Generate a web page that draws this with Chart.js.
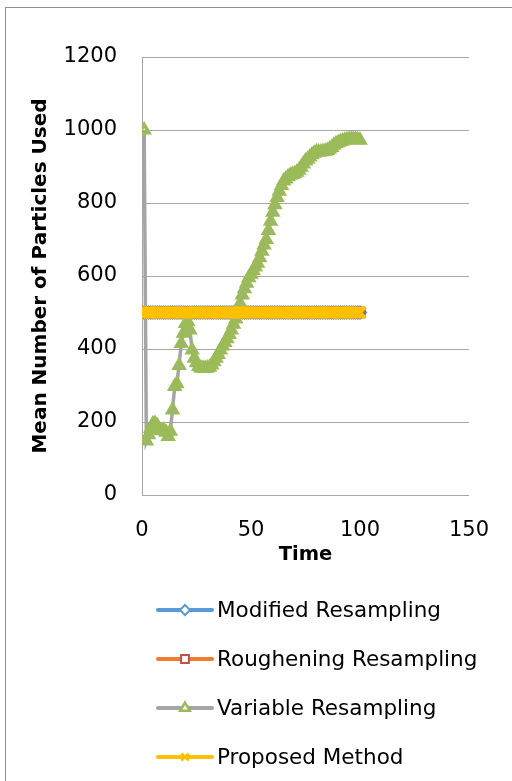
<!DOCTYPE html>
<html>
<head>
<meta charset="utf-8">
<script src="https://cdn.jsdelivr.net/npm/chart.js@4.4.1/dist/chart.umd.min.js"></script>
<style>
  html, body { margin: 0; padding: 0; background: #fff; overflow: hidden; }
  #wrap { position: relative; width: 512px; height: 781px; overflow: hidden; }
  #frame { position: absolute; left: 5px; top: 7px; width: 600px; height: 900px;
           border: 1px solid #8f8f8f; box-sizing: border-box; }
  #c { position: absolute; left: 0; top: 0; }
</style>
</head>
<body>
<div id="wrap">
  <div id="frame"></div>
  <canvas id="c" width="512" height="781"></canvas>
</div>
<script>
// Time steps of the simulation
const timeSteps = [
  1, 2, 3, 4, 5, 6, 7, 8, 9, 10, 11, 12, 13, 14, 15, 16, 17, 18, 19, 20,
  21, 22, 23, 24, 25, 26, 27, 28, 29, 30, 31, 32, 33, 34, 35, 36, 37, 38, 39, 40,
  41, 42, 43, 44, 45, 46, 47, 48, 49, 50, 51, 52, 53, 54, 55, 56, 57, 58, 59, 60,
  61, 62, 63, 64, 65, 66, 67, 68, 69, 70, 71, 72, 73, 74, 75, 76, 77, 78, 79, 80,
  81, 82, 83, 84, 85, 86, 87, 88, 89, 90, 91, 92, 93, 94, 95, 96, 97, 98, 99, 100
];

// Mean number of particles used by each method
const modifiedResampling = [
  500, 500, 500, 500, 500, 500, 500, 500, 500, 500, 500, 500, 500, 500, 500, 500, 500, 500, 500, 500,
  500, 500, 500, 500, 500, 500, 500, 500, 500, 500, 500, 500, 500, 500, 500, 500, 500, 500, 500, 500,
  500, 500, 500, 500, 500, 500, 500, 500, 500, 500, 500, 500, 500, 500, 500, 500, 500, 500, 500, 500,
  500, 500, 500, 500, 500, 500, 500, 500, 500, 500, 500, 500, 500, 500, 500, 500, 500, 500, 500, 500,
  500, 500, 500, 500, 500, 500, 500, 500, 500, 500, 500, 500, 500, 500, 500, 500, 500, 500, 500, 500
];
const roughResampling = [
  500, 500, 500, 500, 500, 500, 500, 500, 500, 500, 500, 500, 500, 500, 500, 500, 500, 500, 500, 500,
  500, 500, 500, 500, 500, 500, 500, 500, 500, 500, 500, 500, 500, 500, 500, 500, 500, 500, 500, 500,
  500, 500, 500, 500, 500, 500, 500, 500, 500, 500, 500, 500, 500, 500, 500, 500, 500, 500, 500, 500,
  500, 500, 500, 500, 500, 500, 500, 500, 500, 500, 500, 500, 500, 500, 500, 500, 500, 500, 500, 500,
  500, 500, 500, 500, 500, 500, 500, 500, 500, 500, 500, 500, 500, 500, 500, 500, 500, 500, 500, 500
];
const variableResampling = [
  1000, 148, 165, 182, 195, 196, 190, 178, 176, 178, 172, 160, 175, 233, 297, 305, 355, 415, 443, 470,
  475, 452, 397, 375, 362, 352, 348, 347, 347, 348, 350, 356, 365, 375, 385, 397, 408, 418, 428, 440,
  452, 468, 482, 505, 525, 548, 565, 580, 595, 605, 615, 625, 635, 650, 668, 685, 700, 725, 750, 775,
  795, 815, 832, 848, 860, 866, 872, 876, 878, 880, 884, 890, 898, 907, 915, 920, 926, 932, 936, 940,
  940, 940, 941, 942, 944, 947, 952, 958, 962, 965, 968, 970, 972, 973, 974, 975, 975, 974, 973, 972
];
const proposedMethod = [
  500, 500, 500, 500, 500, 500, 500, 500, 500, 500, 500, 500, 500, 500, 500, 500, 500, 500, 500, 500,
  500, 500, 500, 500, 500, 500, 500, 500, 500, 500, 500, 500, 500, 500, 500, 500, 500, 500, 500, 500,
  500, 500, 500, 500, 500, 500, 500, 500, 500, 500, 500, 500, 500, 500, 500, 500, 500, 500, 500, 500,
  500, 500, 500, 500, 500, 500, 500, 500, 500, 500, 500, 500, 500, 500, 500, 500, 500, 500, 500, 500,
  500, 500, 500, 500, 500, 500, 500, 500, 500, 500, 500, 500, 500, 500, 500, 500, 500, 500, 500, 500
];

const seriesNames = ['Modified Resampling', 'Roughening Resampling', 'Variable Resampling', 'Proposed Method'];

const xTicks = [0, 50, 100, 150];
const yTicks = [0, 200, 400, 600, 800, 1000, 1200];

const toPoints = values => timeSteps.map((t, i) => ({ x: t, y: values[i] }));

const FONT = 'DejaVu Sans';

// Legend stacked one entry per row below the plot, each sample is a line with the marker on it
const stackedLegend = {
  id: 'stackedLegend',
  afterDraw(chart) {
    const ctx = chart.ctx;
    const drawPoint = Chart.helpers && Chart.helpers.drawPoint;
    ctx.save();
    chart.data.datasets.forEach((ds, i) => {
      const y = 610 + i * 49;
      ctx.strokeStyle = ds.borderColor;
      ctx.lineWidth = 4;
      ctx.lineCap = 'round';
      ctx.beginPath();
      ctx.moveTo(158, y);
      ctx.lineTo(212, y);
      ctx.stroke();
      if (drawPoint) {
        ctx.fillStyle = ds.legendFill;
        ctx.strokeStyle = ds.pointBorderColor;
        ctx.lineWidth = ds.legendBorder;
        ctx.lineCap = 'butt';
        drawPoint(ctx, {
          pointStyle: ds.pointStyle,
          rotation: 0,
          radius: ds.legendRadius,
          borderWidth: ds.legendBorder
        }, 185, y);
      }
      ctx.fillStyle = '#000';
      ctx.font = '21.5px "' + FONT + '"';
      ctx.textAlign = 'left';
      ctx.textBaseline = 'middle';
      ctx.fillText(ds.label, 217, y + 1);
    });
    ctx.restore();
  }
};

new Chart(document.getElementById('c'), {
  type: 'scatter',
  data: {
    datasets: [
      {
        label: seriesNames[0],
        data: toPoints(modifiedResampling),
        showLine: true,
        borderColor: '#5B9BD5',
        borderWidth: 3,
        pointStyle: 'rectRot',
        pointRadius: 6.5,
        pointBorderColor: '#5B9BD5',
        pointBackgroundColor: 'rgba(255,255,255,0)',
        pointBorderWidth: 1.5,
        legendRadius: 5,
        legendBorder: 2,
        legendFill: '#ffffff',
        order: 4
      },
      {
        label: seriesNames[1],
        data: toPoints(roughResampling),
        showLine: true,
        borderColor: '#ED7D31',
        borderWidth: 3,
        pointStyle: 'rect',
        pointRadius: 7,
        pointBorderColor: '#C0504D',
        pointBackgroundColor: 'rgba(255,255,255,0)',
        pointBorderWidth: 1.5,
        legendRadius: 5.5,
        legendBorder: 2,
        legendFill: '#ffffff',
        order: 3
      },
      {
        label: seriesNames[2],
        data: toPoints(variableResampling),
        showLine: true,
        borderColor: '#A5A5A5',
        borderWidth: 3.5,
        pointStyle: 'triangle',
        pointRadius: 5.5,
        pointBorderColor: '#9BBB59',
        pointBackgroundColor: 'rgba(255,255,255,0)',
        pointBorderWidth: 3.5,
        legendRadius: 5.5,
        legendBorder: 2.5,
        legendFill: '#ffffff',
        order: 2
      },
      {
        label: seriesNames[3],
        data: toPoints(proposedMethod),
        showLine: true,
        borderColor: '#FFC000',
        borderWidth: 3,
        pointStyle: 'crossRot',
        pointRadius: 7.5,
        pointBorderColor: '#FFC000',
        pointBackgroundColor: '#FFC000',
        pointBorderWidth: 3.5,
        legendRadius: 5,
        legendBorder: 2.5,
        legendFill: '#FFC000',
        order: 1
      }
    ]
  },
  options: {
    responsive: false,
    animation: false,
    devicePixelRatio: 1,
    layout: { padding: { left: 0, top: 57, right: 36, bottom: 206 } },
    plugins: {
      legend: { display: false },
      tooltip: { enabled: false }
    },
    scales: {
      x: {
        type: 'linear',
        min: xTicks[0],
        max: xTicks[xTicks.length - 1],
        afterBuildTicks: s => { s.ticks = xTicks.map(v => ({ value: v })); },
        afterFit: s => { s.height = 80; },
        grid: { display: false, drawTicks: false },
        border: { display: true, color: '#a6a6a6', width: 1 },
        ticks: {
          color: '#000', font: { family: FONT, size: 21 }, padding: 23, maxRotation: 0,
          callback: v => String(v)
        },
        title: {
          display: true, text: 'Time', color: '#000',
          font: { family: FONT, size: 19.5, weight: 'bold' },
          padding: { top: 0, bottom: 8 }
        }
      },
      y: {
        min: yTicks[0],
        max: yTicks[yTicks.length - 1],
        afterBuildTicks: s => { s.ticks = yTicks.map(v => ({ value: v })); },
        afterFit: s => { s.width = 142; },
        grid: { color: '#a6a6a6', lineWidth: 1, drawTicks: false },
        border: { display: true, color: '#a6a6a6', width: 1 },
        ticks: {
          color: '#000', font: { family: FONT, size: 21 }, padding: 25,
          callback: v => String(v)
        },
        title: {
          display: true, text: 'Mean Number of Particles Used', color: '#000',
          font: { family: FONT, size: 20, weight: 'bold' },
          padding: { top: 29, bottom: 0 }
        }
      }
    }
  },
  plugins: [stackedLegend]
});
</script>
</body>
</html>
